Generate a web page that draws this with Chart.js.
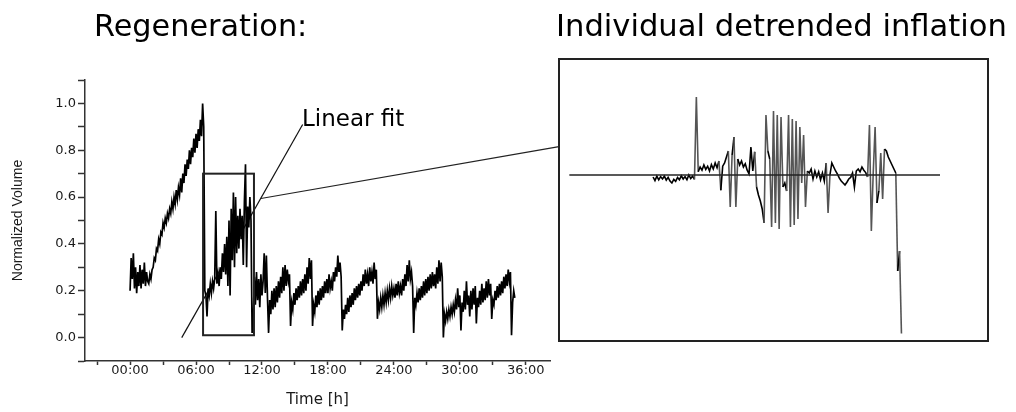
<!DOCTYPE html>
<html>
<head>
<meta charset="utf-8">
<script src="https://cdn.jsdelivr.net/npm/chart.js@4.4.1/dist/chart.umd.min.js"></script>
<style>
  body { margin: 0; background: #fff; }
  #wrap { position: relative; width: 1016px; height: 412px; }
  canvas { position: absolute; left: 0; top: 0; }
  .lbl { position: absolute; font-family: "DejaVu Sans"; color: #000; white-space: nowrap; line-height: 1; }
</style>
</head>
<body>
<div id="wrap">
  <canvas id="mainChart" width="1016" height="412"></canvas>
  <canvas id="insetChart" width="1016" height="412"></canvas>
  <div class="lbl" style="left:94px;top:11px;font-size:30.3px">Regeneration:</div>
  <div class="lbl" style="left:556px;top:11px;font-size:30.6px">Individual detrended inflation</div>
  <div class="lbl" style="left:302px;top:107px;font-size:23px">Linear fit</div>
</div>
<script>
// normalized volume, one sample every 0.1 h starting at 00:00
const volStart = 0;
const volStep = 0.1;

// 0.0 - 6.7 h : first inflation
const riseVolume = [
  0.20,0.34,0.25,0.36,0.21,0.30,0.19,0.28,0.22,0.31,
  0.21,0.29,0.23,0.32,0.22,0.28,0.24,0.23,0.27,0.25,
  0.29,0.30,0.34,0.33,0.38,0.37,0.42,0.40,0.45,0.44,
  0.49,0.47,0.51,0.49,0.53,0.51,0.55,0.53,0.58,0.55,
  0.60,0.57,0.63,0.59,0.64,0.61,0.68,0.62,0.70,0.66,
  0.74,0.69,0.76,0.72,0.80,0.74,0.81,0.77,0.85,0.79,
  0.87,0.81,0.89,0.84,0.93,0.86,1.00,0.90
];
// 6.8 - 11.2 h : the zoomed window
const boxVolume = [
  0.20,0.18,
  0.09,0.21,0.18,0.23,0.19,0.24,0.21,0.25,0.54,0.23,
  0.27,0.22,0.30,0.25,0.36,0.28,0.40,0.27,0.43,0.22,
  0.50,0.18,0.55,0.33,0.62,0.30,0.60,0.36,0.52,0.38,
  0.55,0.42,0.52,0.31,0.58,0.74,0.30,0.56,0.47,0.60,
  0.50,0.02,0.05
];
// 11.3 - 35.0 h : regeneration cycles
const cycleVolume = [
  0.26,0.14,0.28,0.16,0.25,0.13,0.27,
  0.18,0.24,0.36,0.19,0.35,0.17,0.02,0.16,0.10,0.20,
  0.12,0.21,0.13,0.22,0.15,0.24,0.17,0.26,0.19,0.30,
  0.20,0.31,0.22,0.29,0.24,0.27,0.05,0.15,0.12,0.19,
  0.14,0.21,0.16,0.22,0.17,0.24,0.18,0.25,0.19,0.27,
  0.20,0.30,0.23,0.34,0.25,0.33,0.05,0.14,0.11,0.18,
  0.13,0.20,0.14,0.21,0.16,0.22,0.17,0.24,0.19,0.25,
  0.19,0.27,0.21,0.24,0.20,0.28,0.24,0.30,0.26,0.35,
  0.28,0.32,0.26,0.03,0.12,0.08,0.14,0.10,0.17,0.11,
  0.18,0.13,0.19,0.14,0.21,0.16,0.22,0.17,0.23,0.18,
  0.24,0.20,0.27,0.22,0.29,0.23,0.27,0.22,0.30,0.24,
  0.28,0.23,0.32,0.25,0.29,0.08,0.15,0.12,0.17,0.13,
  0.18,0.14,0.19,0.15,0.20,0.16,0.21,0.17,0.22,0.18,
  0.21,0.17,0.23,0.18,0.24,0.19,0.22,0.18,0.25,0.20,
  0.27,0.22,0.31,0.24,0.33,0.25,0.28,0.22,0.02,0.17,
  0.14,0.19,0.15,0.21,0.16,0.22,0.17,0.24,0.18,0.25,
  0.19,0.26,0.20,0.27,0.21,0.28,0.22,0.27,0.21,0.30,
  0.23,0.33,0.24,0.32,0.26,0.00,0.10,0.07,0.11,0.08,
  0.12,0.09,0.13,0.10,0.14,0.11,0.16,0.12,0.21,0.13,
  0.18,0.03,0.15,0.11,0.20,0.12,0.24,0.14,0.18,0.09,
  0.20,0.12,0.21,0.14,0.22,0.06,0.17,0.13,0.20,0.14,
  0.23,0.15,0.21,0.16,0.24,0.17,0.25,0.18,0.23,0.08,
  0.16,0.14,0.20,0.16,0.22,0.17,0.23,0.18,0.24,0.19,
  0.26,0.21,0.27,0.22,0.29,0.24,0.28,0.01,0.15,0.20,
  0.17
];

// linear fit over the zoomed window
const fitHours = [4.7, 15.7];
const fitVolume = [0.0, 0.91];

// zoomed window and pointer to the inset
const zoomHours = [6.64, 11.27];
const zoomVolume = [0.01, 0.70];
const pointerFrom = [11.9, 0.594];
const pointerTo = 0.071;

// axis ticks
const xTickHours = [-3,0,3,6,9,12,15,18,21,24,27,30,33,36];
const yTickVolume = [-0.1,0,0.1,0.2,0.3,0.4,0.5,0.6,0.7,0.8,0.9,1.0,1.1];

// detrended inflation inside the window, one sample every 2 min from 06:48
const insetStartMin = 408;
const insetStepMin = 2;
const insetValue = [
  -0.005,-0.014,-0.003,-0.012,-0.004,-0.010,-0.003,-0.013,-0.006,-0.015,
  -0.020,-0.011,-0.016,-0.006,-0.012,-0.002,-0.010,-0.004,-0.012,0.000,
  -0.009,-0.003,-0.011,0.195,0.008,0.020,0.012,0.025,0.014,0.022,
  0.010,0.026,0.015,0.030,0.018,0.035,-0.038,0.022,0.030,0.045,
  0.060,-0.080,0.050,0.095,-0.080,0.040,0.025,0.035,0.020,0.028,
  0.012,0.003,0.070,0.010,0.058,-0.030,-0.050,-0.065,-0.085,-0.120,
  0.150,0.060,0.040,-0.130,0.160,-0.120,0.150,-0.135,0.145,-0.030,
  -0.020,-0.040,0.150,-0.130,0.140,-0.125,0.135,-0.110,0.120,-0.020,
  0.100,-0.080,0.010,0.005,0.015,-0.010,0.010,-0.005,0.008,-0.012,
  0.005,-0.015,0.030,-0.095,0.000,0.030,0.020,0.010,0.002,-0.008,
  -0.015,-0.020,-0.025,-0.018,-0.010,-0.006,0.005,-0.030,0.010,0.015,
  0.008,0.020,0.012,0.006,-0.005,0.125,-0.140,0.005,0.120,-0.070,
  -0.040,0.055,-0.060,0.065,0.060,0.045,0.035,0.025,0.015,0.005,
  -0.240,-0.190,-0.396
];
const insetFitMin = [319, 713];

const volume = riseVolume.concat(boxVolume, cycleVolume);
const volumePoints = volume.map((v, i) => ({ x: volStart + i * volStep, y: v }));
const fitPoints = fitHours.map((h, i) => ({ x: h, y: fitVolume[i] }));
const insetPoints = insetValue.map((v, i) => ({ x: insetStartMin + i * insetStepMin, y: v }));
const insetFitPoints = insetFitMin.map(m => ({ x: m, y: 0 }));

function hh(v) {
  return String(v).padStart(2, '0') + ':00';
}

const zoomBox = {
  id: 'zoomBox',
  afterDatasetsDraw(chart) {
    const { ctx, scales: { x, y } } = chart;
    const x0 = x.getPixelForValue(zoomHours[0]);
    const x1 = x.getPixelForValue(zoomHours[1]);
    const y0 = y.getPixelForValue(zoomVolume[1]);
    const y1 = y.getPixelForValue(zoomVolume[0]);
    ctx.save();
    ctx.strokeStyle = '#222';
    ctx.lineWidth = 2;
    ctx.strokeRect(x0, y0, x1 - x0, y1 - y0);
    ctx.restore();
  }
};

const mainChart = new Chart(document.getElementById('mainChart'), {
  type: 'line',
  data: {
    datasets: [
      { data: volumePoints, borderColor: '#000', borderWidth: 1.7, pointRadius: 0, tension: 0 },
      { data: fitPoints, borderColor: '#111', borderWidth: 1.2, pointRadius: 0 }
    ]
  },
  options: {
    responsive: false,
    animation: false,
    events: [],
    layout: { padding: { left: 0, right: 466, top: 80, bottom: 0 } },
    plugins: { legend: { display: false }, tooltip: { enabled: false } },
    scales: {
      x: {
        type: 'linear', min: -4.1, max: 38.2,
        afterFit: s => { s.height = 51; },
        afterBuildTicks: s => { s.ticks = xTickHours.map(v => ({ value: v })); },
        grid: { drawOnChartArea: false, tickLength: 4, tickColor: '#333', tickWidth: 1.5 },
        border: { color: '#333', width: 1.5 },
        ticks: {
          padding: -2, color: '#1a1a1a', maxRotation: 0, autoSkip: false,
          font: { family: 'DejaVu Sans', size: 13 },
          callback: v => (v % 6 === 0 ? hh(v) : '')
        },
        title: {
          display: true, text: 'Time [h]', color: '#1a1a1a',
          font: { family: 'DejaVu Sans', size: 15 }, padding: { top: 0, bottom: 3 }
        }
      },
      y: {
        min: -0.1, max: 1.1,
        afterFit: s => { s.width = 85; },
        afterBuildTicks: s => { s.ticks = yTickVolume.map(v => ({ value: v })); },
        grid: { drawOnChartArea: false, tickLength: 7, tickColor: '#333', tickWidth: 1.5 },
        border: { color: '#333', width: 1.5 },
        ticks: {
          padding: 2, color: '#1a1a1a', autoSkip: false,
          font: { family: 'DejaVu Sans', size: 13 },
          callback: v => (Math.round(v * 10) % 2 === 0 ? v.toFixed(1) : '')
        },
        title: {
          display: true, text: 'Normalized Volume', color: '#1a1a1a',
          font: { family: 'Liberation Sans', size: 14 }, padding: { top: 10, bottom: 0 }
        }
      }
    }
  },
  plugins: [zoomBox]
});

const insetFrame = {
  id: 'insetFrame',
  afterDraw(chart) {
    const { ctx, chartArea: a, scales: { y } } = chart;
    const mx = mainChart.scales.x.getPixelForValue(pointerFrom[0]);
    const my = mainChart.scales.y.getPixelForValue(pointerFrom[1]);
    ctx.save();
    ctx.strokeStyle = '#222';
    ctx.lineWidth = 2;
    ctx.strokeRect(a.left, a.top, a.right - a.left, a.bottom - a.top);
    ctx.lineWidth = 1.2;
    ctx.beginPath();
    ctx.moveTo(mx, my);
    ctx.lineTo(a.left, y.getPixelForValue(pointerTo));
    ctx.stroke();
    ctx.restore();
  }
};

new Chart(document.getElementById('insetChart'), {
  type: 'line',
  data: {
    datasets: [
      { data: insetFitPoints, borderColor: '#222', borderWidth: 1.3, pointRadius: 0 },
      {
        data: insetPoints, borderColor: '#000', borderWidth: 1.6, pointRadius: 0, tension: 0,
        segment: {
          borderColor: c => (Math.abs(c.p1.parsed.y - c.p0.parsed.y) > 0.07 ? '#555' : '#000')
        }
      }
    ]
  },
  options: {
    responsive: false,
    animation: false,
    events: [],
    layout: { padding: { left: 559, right: 28, top: 59, bottom: 71 } },
    plugins: { legend: { display: false }, tooltip: { enabled: false } },
    scales: {
      x: { type: 'linear', display: false, min: 308, max: 764 },
      y: { display: false, min: -0.415, max: 0.29 }
    }
  },
  plugins: [insetFrame]
});
</script>
</body>
</html>
